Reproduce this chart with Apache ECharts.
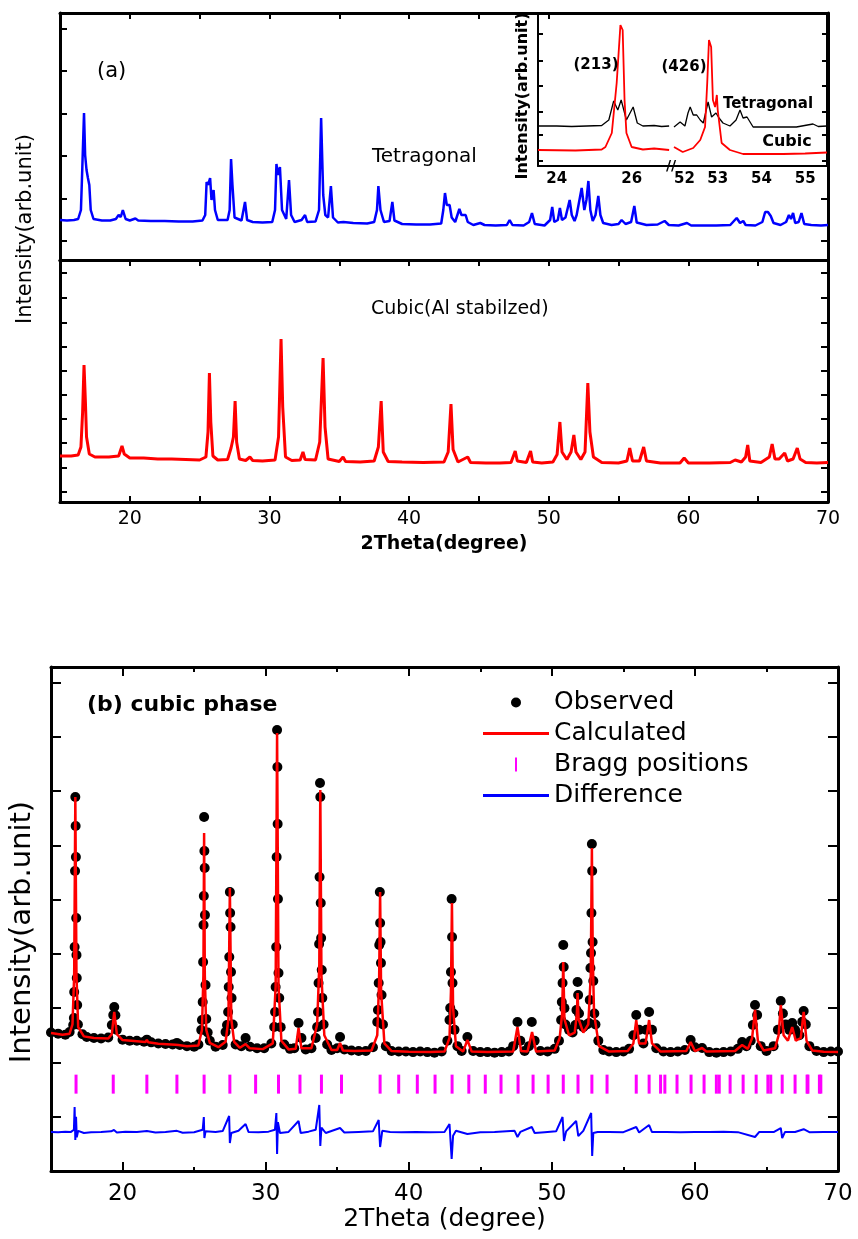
<!DOCTYPE html>
<html>
<head>
<meta charset="utf-8">
<title>XRD patterns</title>
<script src="https://cdn.jsdelivr.net/npm/echarts@6/dist/echarts.min.js"></script>
<style>
html, body { margin: 0; padding: 0; background: #fff; }
#main { width: 858px; height: 1239px; }
</style>
</head>
<body>
<div id="main"></div>
<script>
// ---------- data (arb. units) ----------
// (a) top : tetragonal pattern, 2theta / intensity
var tetragonalA = [
	[15.0,800],[15.5,790],[16.0,800],[16.3,820],[16.5,1000],[16.6,1860],[16.72,2940],[16.8,2100],[16.9,1800],[17.0,1640],[17.1,1500],[17.2,1000],[17.4,820],
	[18.0,790],[18.6,790],[19.0,820],[19.2,900],[19.35,860],[19.5,1000],[19.7,820],[20.0,790],[20.4,830],[20.6,790],[21.5,780],[22.5,780],[23.5,770],[24.5,770],
	[25.2,790],[25.4,900],[25.5,1560],[25.6,1500],[25.75,1640],[25.85,1200],[26.0,1400],[26.1,1000],[26.3,800],[27.0,800],[27.15,1000],[27.25,2020],[27.35,1500],[27.5,850],
	[28.0,790],[28.25,1160],[28.4,800],[28.8,760],[29.5,750],[30.2,760],[30.4,1000],[30.5,1920],[30.6,1700],[30.75,1860],[30.9,1000],[31.2,820],[31.4,1600],[31.55,900],
	[31.8,760],[32.3,800],[32.55,900],[32.7,760],[33.3,770],[33.55,1000],[33.7,2840],[33.85,1300],[34.0,900],[34.2,850],[34.4,1480],[34.55,850],[34.9,750],[35.3,760],
	[36.0,740],[37.0,730],[37.5,760],[37.7,1000],[37.8,1480],[37.95,1000],[38.2,760],[38.6,780],[38.8,1160],[38.95,790],[39.5,720],[40.5,710],[41.5,710],
	[42.3,730],[42.45,1000],[42.57,1340],[42.7,1100],[42.9,1100],[43.05,850],[43.3,760],[43.6,1020],[43.75,900],[44.05,900],[44.2,760],[44.6,700],[45.1,740],[45.4,700],
	[46.2,690],[47.0,700],[47.2,800],[47.4,700],[48.2,690],[48.6,760],[48.8,940],[49.0,720],[49.7,690],[50.1,800],[50.25,1060],[50.4,760],[50.65,800],[50.8,1040],[50.95,800],
	[51.2,850],[51.5,1200],[51.65,900],[51.85,780],[52.0,900],[52.2,1200],[52.36,1440],[52.55,1000],[52.7,1200],[52.84,1580],[52.98,1000],[53.15,780],[53.35,900],[53.55,1280],[53.7,900],[53.9,740],
	[54.5,700],[55.0,720],[55.22,800],[55.5,720],[55.9,760],[56.13,1080],[56.3,750],[57.0,700],[57.8,710],[58.3,780],[58.6,700],[59.3,690],[59.9,740],[60.2,690],
	[61.0,690],[62.0,690],[63.0,700],[63.46,840],[63.7,740],[63.93,780],[64.1,700],[64.8,690],[65.3,760],[65.5,960],[65.7,960],[65.9,880],[66.1,740],[66.6,700],
	[67.0,760],[67.2,900],[67.35,820],[67.5,940],[67.65,740],[67.9,760],[68.1,940],[68.3,720],[68.8,700],[69.5,690],[70.0,700]
];
// (a) bottom : cubic (Al stabilized) pattern
var cubicA = [
	[15.0,920],[15.8,920],[16.3,940],[16.5,1100],[16.62,1800],[16.72,2740],[16.82,2000],[16.9,1300],[17.1,960],[17.5,900],[18.5,900],[19.2,920],[19.44,1120],[19.6,960],
	[20.0,880],[21.0,880],[22.0,860],[23.0,860],[24.0,850],[25.0,840],[25.45,900],[25.6,1400],[25.7,2580],[25.8,1600],[25.95,920],[26.3,840],[27.0,850],[27.25,1080],
	[27.42,1300],[27.54,2020],[27.65,1200],[27.85,860],[28.3,830],[28.6,900],[28.8,830],[29.5,820],[30.4,840],[30.65,1300],[30.83,3260],[30.95,1900],[31.15,900],[31.6,830],
	[32.2,840],[32.4,1000],[32.55,850],[33.3,840],[33.6,1200],[33.84,2880],[33.98,1500],[34.2,860],[35.0,810],[35.27,900],[35.45,810],[36.5,800],[37.5,820],[37.8,1100],
	[38.0,2020],[38.15,1000],[38.5,810],[39.5,800],[41.0,790],[42.5,800],[42.8,1000],[43.0,1960],[43.15,1050],[43.5,800],[44.2,900],[44.4,790],[45.5,780],[46.5,780],
	[47.3,790],[47.6,1020],[47.75,820],[48.4,790],[48.7,1020],[48.85,800],[49.5,780],[50.3,800],[50.6,950],[50.8,1600],[50.95,1000],[51.3,850],[51.6,1000],[51.8,1340],
	[51.95,1000],[52.3,850],[52.6,1000],[52.8,2380],[52.95,1400],[53.2,900],[53.8,790],[55.0,780],[55.6,820],[55.8,1080],[56.0,820],[56.5,820],[56.8,1100],[57.0,820],
	[58.0,780],[59.4,780],[59.7,880],[60.0,780],[61.5,780],[63.0,790],[63.35,840],[63.8,800],[64.1,900],[64.25,1140],[64.4,820],[65.2,790],[65.8,900],[66.0,1160],
	[66.2,860],[66.5,860],[66.9,980],[67.1,820],[67.5,860],[67.8,1080],[68.0,860],[68.4,790],[69.2,780],[70.0,790]
];
// inset : (213) and (426) regions
var insetTetLeft = [
	[23.5,400],[24.0,400],[24.4,395],[24.8,400],[25.2,405],[25.39,460],[25.52,650],[25.63,560],[25.72,660],[25.86,460],[26.04,590],[26.15,430],[26.3,400],[26.6,405],[26.8,395],[27.0,400]
];
var insetCubLeft = [
	[23.5,160],[24.5,155],[25.2,165],[25.3,190],[25.47,330],[25.6,830],[25.7,1410],[25.76,1360],[25.81,660],[25.86,330],[26.0,190],[26.3,165],[26.6,175],[26.65,160],[27.0,160]
];
var insetTetRight = [
	[52.0,390],[52.14,440],[52.25,400],[52.32,530],[52.37,590],[52.44,510],[52.52,510],[52.6,460],[52.67,430],[52.78,640],[52.86,490],[52.96,530],[53.03,480],[53.12,430],
	[53.28,400],[53.42,460],[53.51,560],[53.58,480],[53.67,490],[53.81,390],[54.2,390],[54.8,390],[55.18,420],[55.3,395],[55.5,400]
];
var insetCubRight = [
	[52.0,190],[52.2,140],[52.44,180],[52.6,260],[52.71,390],[52.76,830],[52.8,1260],[52.85,1190],[52.89,660],[52.94,590],[52.98,710],[53.0,560],[53.09,230],[53.28,160],
	[53.58,120],[54.5,120],[55.0,125],[55.5,135]
];
// (b) Rietveld refinement, cubic phase
var observedB = [
	[15.0,2550],[15.5,2530],[16.0,2510],[16.3,2560],
	[16.55,2689],[16.6,2818],[16.62,3297],[16.65,4126],[16.68,5526],[16.7,6889],[16.72,6355],[16.74,5784],[16.76,4660],[16.78,3979],[16.8,3555],[16.83,3058],[16.88,2700],
	[17.2,2520],[17.5,2470],[18.0,2450],[18.5,2440],[19.0,2460],
	[19.25,2690],[19.35,2874],[19.42,3021],[19.5,2870],[19.6,2600],
	[20.0,2420],[20.5,2400],[21.0,2400],[21.5,2380],[21.7,2420],[22.0,2370],[22.5,2350],[23.0,2340],[23.5,2330],[23.8,2360],[24.0,2320],[24.5,2300],[25.0,2290],[25.3,2330],
	[25.5,2597],[25.55,2781],[25.6,3113],[25.63,3850],[25.66,4531],[25.68,5066],[25.7,6521],[25.72,5894],[25.74,5581],[25.76,4716],[25.8,3426],[25.85,2800],[25.95,2550],
	[26.1,2400],[26.5,2290],[27.0,2320],[27.2,2560],
	[27.3,2689],[27.38,2929],[27.42,3389],[27.46,3942],[27.5,5139],[27.52,4752],[27.55,4494],[27.58,3666],[27.62,3187],[27.7,2700],
	[27.9,2330],[28.3,2300],[28.6,2450],[28.9,2290],[29.4,2260],[29.9,2260],[30.4,2350],
	[30.6,2652],[30.66,2929],[30.7,3389],[30.74,4126],[30.77,5784],[30.8,8123],[30.82,7442],[30.84,6392],[30.86,5010],[30.9,3647],[30.95,3187],[31.05,2650],
	[31.3,2330],[31.7,2250],[32.0,2260],[32.3,2726],[32.5,2450],[32.8,2240],[33.2,2260],[33.5,2450],
	[33.6,2652],[33.66,2929],[33.7,3463],[33.74,4181],[33.77,5415],[33.8,7147],[33.82,6889],[33.85,4937],[33.88,4292],[33.92,3702],[33.96,3187],[34.05,2700],
	[34.3,2330],[34.6,2230],[35.0,2260],[35.2,2468],[35.5,2240],[36.0,2220],[36.5,2210],[37.0,2210],[37.5,2280],
	[37.8,2745],[37.85,2966],[37.9,3463],[37.94,4163],[37.98,5139],[38.0,4568],[38.03,4218],[38.06,3831],[38.1,3242],[38.2,2700],
	[38.4,2300],[38.8,2210],[39.3,2200],[39.8,2200],[40.3,2190],[40.8,2200],[41.3,2190],[41.8,2180],[42.3,2200],[42.7,2400],
	[42.85,2781],[42.9,3002],[42.95,3666],[43.0,5010],[43.03,4310],[43.06,3463],[43.12,2900],[43.2,2600],
	[43.4,2300],[43.7,2210],[44.1,2468],[44.5,2210],[45.0,2190],[45.5,2190],[46.0,2180],[46.5,2190],[47.0,2200],[47.3,2300],[47.6,2745],[47.8,2400],[48.1,2210],
	[48.4,2300],[48.6,2745],[48.8,2400],[49.2,2210],[49.7,2200],[50.2,2250],[50.5,2400],
	[50.65,2781],[50.7,3113],[50.75,3463],[50.8,4163],[50.83,3758],[50.88,3000],[50.95,2700],
	[51.2,2600],[51.45,2550],
	[51.65,2689],[51.72,2966],[51.8,3481],[51.84,3242],[51.9,2900],[52.0,2700],
	[52.2,2650],[52.45,2700],
	[52.6,2726],[52.65,3150],[52.7,3739],[52.74,4016],[52.77,4752],[52.8,6023],[52.82,5526],[52.85,4218],[52.9,3500],[52.97,2900],[53.05,2700],
	[53.25,2400],[53.6,2230],[54.0,2200],[54.5,2190],[55.0,2200],[55.4,2250],[55.7,2500],[55.9,2874],[56.1,2600],[56.4,2350],[56.6,2600],[56.8,2929],[57.0,2600],
	[57.3,2260],[57.8,2200],[58.3,2190],[58.8,2200],[59.3,2230],[59.7,2413],[60.0,2280],[60.5,2266],[61.0,2190],[61.5,2180],[62.0,2190],[62.5,2200],[63.0,2250],
	[63.3,2376],[63.6,2300],[63.9,2400],[64.05,2689],[64.2,3058],[64.35,2874],[64.6,2300],[65.0,2210],[65.5,2300],[65.8,2600],[66.0,3131],[66.15,2900],[66.35,2700],
	[66.6,2600],[66.8,2726],[67.0,2600],[67.3,2500],[67.5,2750],[67.6,2947],[67.75,2700],[68.0,2300],[68.5,2210],[69.0,2190],[69.5,2200],[70.0,2200]
];
var calculatedB = [
	[15.0,2542],[15.8,2510],[16.3,2530],[16.5,2700],[16.62,3600],[16.7,6889],[16.78,3600],[16.9,2650],[17.3,2480],[18.0,2450],[19.0,2440],[19.25,2520],[19.42,2929],
	[19.6,2520],[20.0,2413],[21.0,2390],[21.6,2375],[21.7,2413],[21.8,2370],[22.5,2345],[23.7,2325],[23.8,2360],[23.9,2320],[24.5,2300],[25.3,2310],[25.55,2600],
	[25.65,3600],[25.7,6226],[25.75,3600],[25.85,2600],[26.1,2360],[26.7,2280],[27.2,2380],[27.4,2800],[27.5,5213],[27.6,2800],[27.8,2380],[28.2,2270],[28.6,2339],
	[28.9,2260],[29.8,2245],[30.5,2350],[30.7,3400],[30.8,8068],[30.9,3400],[31.1,2400],[31.6,2240],[32.1,2250],[32.3,2634],[32.5,2260],[33.2,2260],[33.6,2700],
	[33.75,3800],[33.82,7018],[33.9,3600],[34.1,2500],[34.6,2230],[35.0,2230],[35.2,2358],[35.4,2220],[36.2,2210],[37.4,2220],[37.8,2500],[37.93,3500],[38.0,5139],
	[38.07,3300],[38.3,2350],[38.8,2210],[40.0,2195],[41.5,2190],[42.5,2200],[42.85,2450],[42.95,3300],[43.02,4937],[43.1,3000],[43.3,2300],[43.8,2200],[44.1,2413],
	[44.4,2200],[45.5,2190],[47.3,2200],[47.6,2652],[47.85,2210],[48.3,2200],[48.62,2560],[48.9,2200],[50.2,2220],[50.55,2450],[50.72,2900],[50.8,3850],[50.88,2800],
	[51.2,2500],[51.6,2550],[51.75,2900],[51.8,3279],[51.87,2800],[52.2,2550],[52.55,2700],[52.72,3600],[52.8,5950],[52.86,4000],[52.95,2900],[53.3,2300],[54.0,2200],
	[55.3,2210],[55.7,2350],[55.9,2781],[56.1,2350],[56.55,2350],[56.8,2781],[57.0,2350],[57.6,2200],[59.4,2210],[59.7,2376],[60.0,2210],[60.5,2266],[60.8,2200],
	[62.8,2210],[63.3,2321],[63.7,2250],[64.0,2450],[64.2,2966],[64.4,2400],[64.8,2220],[65.6,2260],[65.85,2500],[66.0,3058],[66.2,2500],[66.5,2400],[66.8,2652],
	[67.05,2400],[67.4,2450],[67.6,2929],[67.8,2400],[68.2,2220],[69.0,2195],[70.0,2192]
];
var braggB = [
	16.75,19.35,21.7,23.8,25.7,27.5,29.3,30.9,32.4,33.9,35.3,38.0,39.3,40.6,41.84,43.03,44.2,45.35,46.45,47.64,48.69,49.74,50.8,51.83,52.8,53.86,
	55.9,56.8,57.6,57.9,58.75,59.73,60.64,61.5,61.7,62.46,63.37,64.28,65.1,65.3,66.1,67.0,67.84,67.9,68.7,68.8
];
var braggLevel = 1600;
var differenceB = [
	[15.0,720],[15.5,715],[16.0,725],[16.4,720],[16.6,760],[16.65,1179],[16.7,571],[16.75,1000],[16.8,620],[16.9,740],[17.3,700],[17.8,715],[18.5,720],[19.2,730],
	[19.4,755],[19.6,710],[20.2,725],[21.0,720],[21.7,735],[22.3,710],[23.0,720],[23.8,740],[24.2,705],[25.0,715],[25.6,760],[25.68,995],[25.72,608],[25.8,730],
	[26.5,720],[27.0,735],[27.45,1013],[27.5,516],[27.6,700],[28.1,740],[28.6,866],[28.8,720],[29.5,712],[30.2,725],[30.65,760],[30.75,1068],[30.8,313],[30.86,900],
	[31.0,700],[31.6,720],[32.3,921],[32.45,700],[33.0,725],[33.5,760],[33.75,1216],[33.82,461],[33.9,800],[34.2,700],[35.2,792],[35.5,710],[36.5,720],[37.5,730],
	[37.9,939],[38.0,442],[38.15,740],[38.7,720],[39.5,715],[40.5,720],[41.5,712],[42.5,718],[42.85,866],[43.0,221],[43.1,650],[43.3,740],[44.1,680],[45.0,715],
	[46.0,720],[47.4,740],[47.6,626],[47.8,720],[48.6,811],[48.8,700],[49.5,715],[50.3,730],[50.75,995],[50.85,553],[51.0,730],[51.7,921],[51.85,645],[52.2,740],
	[52.75,1068],[52.82,276],[52.9,700],[53.2,720],[54.0,718],[55.0,715],[55.9,811],[56.1,710],[56.8,847],[57.0,718],[58.0,720],[59.0,716],[60.0,720],[61.0,718],
	[62.0,722],[63.0,716],[64.2,626],[64.5,720],[65.5,718],[66.0,792],[66.1,608],[66.3,720],[67.0,718],[67.6,770],[68.0,715],[69.0,720],[70.0,718]
];

// tick / label values
var xLabels = [20, 30, 40, 50, 60, 70];
var xTicks5 = [20, 25, 30, 35, 40, 45, 50, 55, 60, 65];
var xTicksMajor = [20, 30, 40, 50, 60];
var xTicksMinor = [25, 35, 45, 55, 65];
var yTicksATop = [380, 1220, 2080, 2920, 3780, 4620];
var yTicksATopRight = [380, 1220];
var yTicksABot = [200, 680, 1180, 1660, 2140, 2620, 3100, 3580, 4080, 4580];
var yTicksInset = [50, 310, 540, 800, 1050, 1320];
var yTicksB = [1000, 2000, 3000, 4000, 5000, 6000, 7000, 8000, 9000];
var insetLabelsL = [24, 26];
var insetLabelsR = [52, 53, 54, 55];

var FONT = 'DejaVu Sans';

// one axis helper, every frame side is an axis
function axis(grid, pos, min, max, o) {
	o = o || {};
	return {
		type: 'value', gridIndex: grid, position: pos, min: min, max: max,
		axisLine: { show: o.line !== false, onZero: false, lineStyle: { color: '#000', width: o.lw || 3 } },
		axisTick: { show: !!o.ticks, inside: true, length: o.tl || 6, customValues: o.ticks,
			lineStyle: { color: '#000', width: o.tw || 2 } },
		axisLabel: { show: !!o.labels, customValues: o.labels, margin: o.margin || 8, color: '#000',
			fontFamily: FONT, fontSize: o.fs || 19, fontWeight: o.fw || 'normal',
			showMinLabel: true, showMaxLabel: true, alignMinLabel: o.alignMin },
		splitLine: { show: false },
		name: o.name, nameLocation: 'middle', nameGap: o.nameGap || 30,
		nameTextStyle: { color: '#000', fontFamily: FONT, fontSize: o.nfs || 19, fontWeight: o.nfw || 'normal' }
	};
}

function label(text, x, y, size, weight, align, rot) {
	return {
		type: 'text', x: x, y: y, rotation: rot || 0, z: 50,
		style: { text: text, fill: '#000', fontFamily: FONT, fontSize: size, fontWeight: weight || 'normal',
			align: align || 'center', verticalAlign: 'middle' }
	};
}

var myChart = echarts.init(document.getElementById('main'), null, { renderer: 'canvas', width: 858, height: 1239 });

var option = {
	backgroundColor: '#fff',
	animation: false,
	grid: [
		{ left: 60, top: 13, width: 768, height: 247, outerBoundsMode: 'none' },  // (a) top
		{ left: 60, top: 260, width: 768, height: 242, outerBoundsMode: 'none' }, // (a) bottom
		{ left: 538, top: 13, width: 136, height: 153, outerBoundsMode: 'none' }, // inset left
		{ left: 674, top: 13, width: 153, height: 153, outerBoundsMode: 'none' }, // inset right
		{ left: 51, top: 667, width: 787, height: 504, outerBoundsMode: 'none' }  // (b)
	],
	xAxis: [
		axis(0, 'bottom', 15, 70, {}),
		axis(0, 'top', 15, 70, { ticks: [20, 25, 30, 35, 40, 45, 50] }),
		axis(1, 'bottom', 15, 70, { ticks: xTicks5, labels: xLabels, fs: 19, margin: 8,
			name: '2Theta(degree)', nameGap: 33, nfs: 19, nfw: 'bold' }),
		axis(1, 'top', 15, 70, { ticks: xTicks5 }),
		axis(2, 'bottom', 23.5, 27.13, { lw: 2, labels: insetLabelsL, fs: 15, fw: 'bold', margin: 6 }),
		axis(2, 'top', 23.5, 27.13, { lw: 2 }),
		axis(3, 'bottom', 52, 55.5, { lw: 2, labels: insetLabelsR, fs: 15, fw: 'bold', margin: 6, alignMin: 'left' }),
		axis(3, 'top', 52, 55.5, { lw: 2 }),
		axis(4, 'bottom', 15, 70, { ticks: xTicksMajor, tl: 9, labels: xLabels, fs: 23, margin: 12,
			name: '2Theta (degree)', nameGap: 36, nfs: 25 }),
		axis(4, 'bottom', 15, 70, { line: false, ticks: xTicksMinor, tl: 4 }),
		axis(4, 'top', 15, 70, { ticks: xTicksMajor, tl: 9 }),
		axis(4, 'top', 15, 70, { line: false, ticks: xTicksMinor, tl: 5 })
	],
	yAxis: [
		axis(0, 'left', 0, 4940, { ticks: yTicksATop, tl: 7 }),
		axis(0, 'right', 0, 4940, { ticks: yTicksATopRight, tl: 7 }),
		axis(1, 'left', 0, 4840, { ticks: yTicksABot, tl: 7 }),
		axis(1, 'right', 0, 4840, { ticks: yTicksABot, tl: 7 }),
		axis(2, 'left', 0, 1530, { lw: 2, ticks: yTicksInset, tl: 5 }),
		axis(3, 'right', 0, 1530, { lw: 2, ticks: yTicksInset, tl: 5 }),
		axis(4, 'left', 0, 9284, { ticks: yTicksB, tl: 10 }),
		axis(4, 'right', 0, 9284, { ticks: yTicksB, tl: 10 })
	],
	legend: {
		orient: 'vertical', left: 478, top: 685, itemWidth: 66, itemHeight: 14, itemGap: 6,
		selectedMode: false,
		textStyle: { color: '#000', fontFamily: FONT, fontSize: 25 },
		data: [
			{ name: 'Observed', icon: 'path://M0,0M14,14M2,7A5,5,0,1,1,12,7A5,5,0,1,1,2,7Z', itemStyle: { color: '#000', opacity: 1 } },
			{ name: 'Calculated', icon: 'path://M0,0M66,14M0,5.6L66,5.6L66,8.4L0,8.4Z', itemStyle: { color: '#ff0000' } },
			{ name: 'Bragg positions', icon: 'path://M0,0M14,14M6,0L8,0L8,14L6,14Z', itemStyle: { color: '#ff00ff' } },
			{ name: 'Difference', icon: 'path://M0,0M66,14M0,5.6L66,5.6L66,8.4L0,8.4Z', itemStyle: { color: '#0000ff' } }
		]
	},
	graphic: [
		label('(a)', 97, 72, 21, 'normal', 'left'),
		label('Tetragonal', 372, 157, 20, 'normal', 'left'),
		label('Cubic(Al stabilzed)', 371, 309, 19, 'normal', 'left'),
		label('Intensity(arb.unit)', 26, 229, 21, 'normal', 'center', Math.PI / 2),
		label('Intensity(arb.unit)', 523, 96, 16, 'bold', 'center', Math.PI / 2),
		label('(213)', 596, 65, 15, 'bold'),
		label('(426)', 684, 67, 15, 'bold'),
		label('Tetragonal', 768, 104, 15, 'bold'),
		label('Cubic', 787, 142, 16, 'bold'),
		label('//', 671, 166, 14, 'bold'),
		label('(b) cubic phase', 87, 705, 22, 'bold', 'left'),
		label('Intensity(arb.unit)', 22, 932, 29, 'normal', 'center', Math.PI / 2)
	],
	series: [
		{ name: 'tetA', type: 'line', xAxisIndex: 0, yAxisIndex: 0, data: tetragonalA, symbol: 'none',
			lineStyle: { color: '#0000ff', width: 2.5 } },
		{ name: 'cubA', type: 'line', xAxisIndex: 2, yAxisIndex: 2, data: cubicA, symbol: 'none',
			lineStyle: { color: '#ff0000', width: 3 } },
		{ name: 'insetTetL', type: 'line', xAxisIndex: 4, yAxisIndex: 4, data: insetTetLeft, symbol: 'none',
			lineStyle: { color: '#000', width: 1.3 } },
		{ name: 'insetCubL', type: 'line', xAxisIndex: 4, yAxisIndex: 4, data: insetCubLeft, symbol: 'none',
			lineStyle: { color: '#ff0000', width: 1.8 } },
		{ name: 'insetTetR', type: 'line', xAxisIndex: 6, yAxisIndex: 5, data: insetTetRight, symbol: 'none',
			lineStyle: { color: '#000', width: 1.3 } },
		{ name: 'insetCubR', type: 'line', xAxisIndex: 6, yAxisIndex: 5, data: insetCubRight, symbol: 'none',
			lineStyle: { color: '#ff0000', width: 1.8 } },
		{ name: 'Observed', type: 'scatter', xAxisIndex: 8, yAxisIndex: 6, data: observedB,
			symbol: 'circle', symbolSize: 10, itemStyle: { color: '#000', opacity: 1 }, z: 2 },
		{ name: 'Calculated', type: 'line', xAxisIndex: 8, yAxisIndex: 6, data: calculatedB, symbol: 'none',
			color: '#ff0000', lineStyle: { color: '#ff0000', width: 2.5 }, z: 3 },
		{ name: 'Bragg positions', type: 'scatter', xAxisIndex: 8, yAxisIndex: 6,
			data: braggB.map(function (t) { return [t, braggLevel]; }),
			symbol: 'rect', symbolSize: [3, 19], itemStyle: { color: '#ff00ff', opacity: 1 } },
		{ name: 'Difference', type: 'line', xAxisIndex: 8, yAxisIndex: 6, data: differenceB, symbol: 'none',
			color: '#0000ff', lineStyle: { color: '#0000ff', width: 2 } }
	]
};
myChart.setOption(option);
</script>
</body>
</html>
